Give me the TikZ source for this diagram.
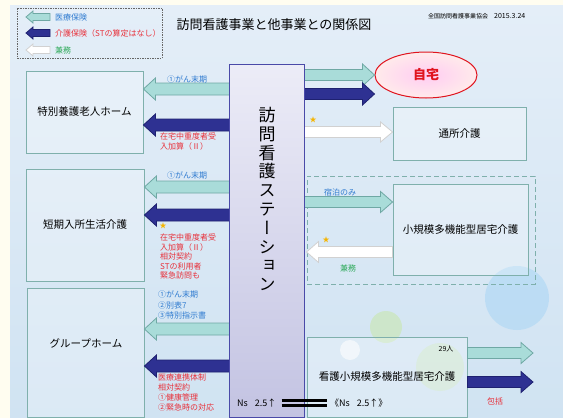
\documentclass[tikz,border=0pt]{standalone}
\usepackage{fontspec}
\setmainfont{Noto Sans CJK JP}
\newfontfamily\vjp[RawFeature=+vert]{Noto Sans CJK JP}
\usetikzlibrary{calc,shapes.geometric,positioning}

\definecolor{cream}{HTML}{FFFDF0}
\definecolor{paneltop}{HTML}{E4EEF8}
\definecolor{panelbot}{HTML}{D0E3F2}
\definecolor{boxc}{HTML}{7FB0AC}
\definecolor{tealf}{HTML}{A9DCD9}
\definecolor{teald}{HTML}{6FA8A4}
\definecolor{navyf}{HTML}{2E3192}
\definecolor{navyd}{HTML}{1E2170}
\definecolor{txtblue}{HTML}{2F7BD0}
\definecolor{txtred}{HTML}{E8303A}
\definecolor{txtgreen}{HTML}{2EAA5A}
\definecolor{gold}{HTML}{F5B400}
\definecolor{homered}{HTML}{E0141E}
\definecolor{stnline}{HTML}{4A4AA8}
\definecolor{stntop}{HTML}{ECECF7}
\definecolor{stnbot}{HTML}{C3C3E2}
\definecolor{dotblue}{HTML}{BADCF4}
\definecolor{dotgreen}{HTML}{CDE7C6}

% block arrow: style, tail, tip, shaft half, head half, head length
\newcommand\blockarr[6]{%
  \path[#1] let \p1=(#2), \p2=(#3), \n1={\x1<\x2 ? \x2-#6 : \x2+#6} in
    (\x1,\y1+#4) -- (\n1,\y1+#4) -- (\n1,\y1+#5) -- (\x2,\y1)
    -- (\n1,\y1-#5) -- (\n1,\y1-#4) -- (\x1,\y1-#4) -- cycle;}

\begin{document}
\begin{tikzpicture}[x=1pt, y=-1pt,
  box/.style={draw=boxc, line width=.9pt, fill=white, fill opacity=.25, text opacity=1, inner sep=0, font=\fontsize{10.5}{12}\selectfont},
  lbl/.style={inner sep=0, font=\fontsize{8}{9.5}\selectfont},
  med/.style={fill=tealf, draw=teald, line width=.8pt},
  care/.style={fill=navyf, draw=navyd, line width=.8pt},
  kenmu/.style={fill=white, draw=black!18, line width=.8pt},
  star/.style={inner sep=0, text=gold, font=\fontsize{7}{8}\selectfont}]
  \useasboundingbox (0,0) rectangle (563,418);
  \fill[cream] (0,0) rectangle (563,418);
  \fill[top color=paneltop, bottom color=panelbot] (10,5) rectangle (563,418);
  \fill[dotblue, opacity=.9] (517,298) circle (32pt);
  \fill[dotgreen, opacity=.9] (386,327) circle (16pt);
  \fill[dotgreen, opacity=.6] (440,367) circle (24pt);
  \fill[white, opacity=.6] (350,350) circle (10pt);

  \draw[black!60, dashed, dash pattern=on 1.5pt off 1pt] (17,8) rectangle (162,58);
  \node[lbl, anchor=west, text=txtblue] (lgA) at (55,17) {医療保険};
  \node[lbl, anchor=west, text=txtred] (lgB) at (55,33) {介護保険（STの算定はなし）};
  \node[lbl, anchor=west, text=txtgreen] (lgC) at (55,50) {兼務};
  \coordinate (lk1) at (26,17);
  \coordinate (lk2) at (26,33);
  \coordinate (lk3) at (26,50);
  \blockarr{med}{[xshift=-5pt]lgA.west}{lk1}{3.5pt}{6pt}{7pt}
  \blockarr{care}{[xshift=-5pt]lgB.west}{lk2}{3.5pt}{6pt}{7pt}
  \blockarr{kenmu}{[xshift=-5pt]lgC.west}{lk3}{3.5pt}{6pt}{7pt}

  \node[inner sep=0, font=\fontsize{13}{15}\selectfont] (title) at (274,25) {訪問看護事業と他事業との関係図};
  \node[inner sep=0, anchor=west, font=\fontsize{6}{7}\selectfont] (org) at (428,16) {全国訪問看護事業協会\hspace{6pt}{\fontsize{7}{8}\selectfont 2015.3.24}};

  \node[box, minimum width=117pt, minimum height=82pt] (tokuyo) at (84.5,112) {特別養護老人ホーム};
  \node[box, minimum width=118pt, minimum height=112pt] (tanki) at (85,225) {短期入所生活介護};
  \node[box, minimum width=117pt, minimum height=129pt] (gh) at (85.5,352.5) {};
  \node[inner sep=0, font=\fontsize{10.5}{12}\selectfont] (ghlbl) at (86,343) {グループホーム};
  \node[box, minimum width=133pt, minimum height=53pt] (tsusho) at (459.5,133.5) {通所介護};
  \node[draw=boxc, line width=.9pt, dashed, dash pattern=on 5pt off 3pt, minimum width=228pt, minimum height=108pt, inner sep=0] (grp) at (421,230) {};
  \node[box, minimum width=135pt, minimum height=91pt] (shoki) at (460.5,229.5) {小規模多機能型居宅介護};
  \node[box, minimum width=160pt, minimum height=80pt] (kanta) at (387,377) {看護小規模多機能型居宅介護};
  \node[ellipse, draw=homered, line width=1pt, inner color=red!25!magenta!20, outer color=red!8!white, minimum width=102pt, minimum height=46pt, inner sep=0, text=homered, font=\bfseries\fontsize{13}{15}\selectfont] (home) at (426,75) {自宅};

  \node[minimum width=74pt, minimum height=352pt, inner sep=0] (stn) at (267,241) {};
  \coordinate (a1) at (stn.west |- 0,89);
  \coordinate (a2) at (stn.west |- 0,125);
  \coordinate (a3) at (stn.west |- 0,187);
  \coordinate (a4) at (stn.west |- 0,215);
  \coordinate (a5) at (stn.west |- 0,329);
  \coordinate (a6) at (stn.west |- 0,366);
  \coordinate (b1) at (stn.east |- 0,75);
  \coordinate (b2) at (stn.east |- 0,94);
  \coordinate (b3) at (stn.east |- 0,132);
  \coordinate (b4) at (stn.east |- 0,202);
  \coordinate (b5) at (shoki.west |- 0,252);
  \coordinate (c1) at (kanta.east |- 0,353);
  \coordinate (c2) at (kanta.east |- 0,382);
  \coordinate (ko1) at (533,353);
  \coordinate (ko2) at (533,382);
  \blockarr{med}{a1}{tokuyo.east |- a1}{6pt}{11pt}{12pt}
  \blockarr{care}{a2}{tokuyo.east |- a2}{6pt}{11pt}{12pt}
  \blockarr{med}{a3}{tanki.east |- a3}{6pt}{11pt}{12pt}
  \blockarr{care}{a4}{tanki.east |- a4}{6pt}{11pt}{12pt}
  \blockarr{med}{a5}{gh.east |- a5}{6pt}{11pt}{12pt}
  \blockarr{care}{a6}{gh.east |- a6}{6pt}{11pt}{12pt}
  \blockarr{med}{b1}{home.west |- b1}{5.5pt}{11pt}{12pt}
  \blockarr{care}{b2}{home.west |- b2}{5.5pt}{11pt}{12pt}
  \blockarr{kenmu}{b3}{tsusho.west |- b3}{5.5pt}{10pt}{12pt}
  \blockarr{med}{b4}{shoki.west |- b4}{5.5pt}{10.5pt}{12pt}
  \blockarr{kenmu}{b5}{grp.west |- b5}{5.5pt}{10.5pt}{12pt}
  \blockarr{med}{c1}{ko1}{5.5pt}{10.5pt}{12pt}
  \blockarr{care}{c2}{ko2}{5.5pt}{10.5pt}{12pt}

  \draw[stnline, line width=1pt, top color=stntop, bottom color=stnbot] (stn.north west) rectangle (stn.south east);
  \node[inner sep=0, align=center, font=\vjp\fontsize{17}{18.8}\selectfont] (stnlbl) at (267,199) {訪\\問\\看\\護\\ス\\テ\\ー\\シ\\ョ\\ン};

  \node[lbl, text=txtblue] (g1) at (187,79) {①がん末期};
  \node[lbl, text=txtred, anchor=north west, align=left] (k1) at (160,133) {在宅中重度者受\\入加算（Ⅱ）};
  \node[lbl, text=txtblue] (g2) at (187,175) {①がん末期};
  \node[star] (s1) at (163,226) {★};
  \node[lbl, text=txtred, anchor=north west, align=left] (k2) at (160,234) {在宅中重度者受\\入加算（Ⅱ）\\相対契約\\STの利用者\\緊急訪問も};
  \node[lbl, text=txtblue, anchor=north west, align=left, font=\fontsize{8}{10.5}\selectfont] (g3) at (158,291) {①がん末期\\②別表7\\③特別指示書};
  \node[lbl, text=txtred, anchor=north west, align=left, font=\fontsize{8}{10}\selectfont] (k3) at (158,374) {医療連携体制\\相対契約\\①健康管理\\②緊急時の対応};
  \node[star] (s2) at (313,120) {★};
  \node[lbl, text=txtblue] (stay) at (340,192) {宿泊のみ};
  \node[star] (s3) at (326,240) {★};
  \node[lbl, text=txtgreen] (km) at (348,268) {兼務};
  \node[inner sep=0, font=\fontsize{7}{8}\selectfont] (cap) at (446,349) {29人};
  \node[lbl, text=txtred] (hk) at (495,401) {包括};
  \node[inner sep=0, anchor=west, font=\fontsize{9}{10}\selectfont] (ns1) at (237,403) {Ns\hspace{7pt}2.5↑};
  \node[inner sep=0, anchor=west, font=\fontsize{9}{10}\selectfont] (ns2) at (330,403) {《Ns\hspace{7pt}2.5↑》};
  \draw[line width=2.6pt] ([shift={(5,-2.4)}]ns1.east) -- ([shift={(-3,-2.4)}]ns2.west);
  \draw[line width=2.6pt] ([shift={(5,2.4)}]ns1.east) -- ([shift={(-3,2.4)}]ns2.west);
\end{tikzpicture}
\end{document}
